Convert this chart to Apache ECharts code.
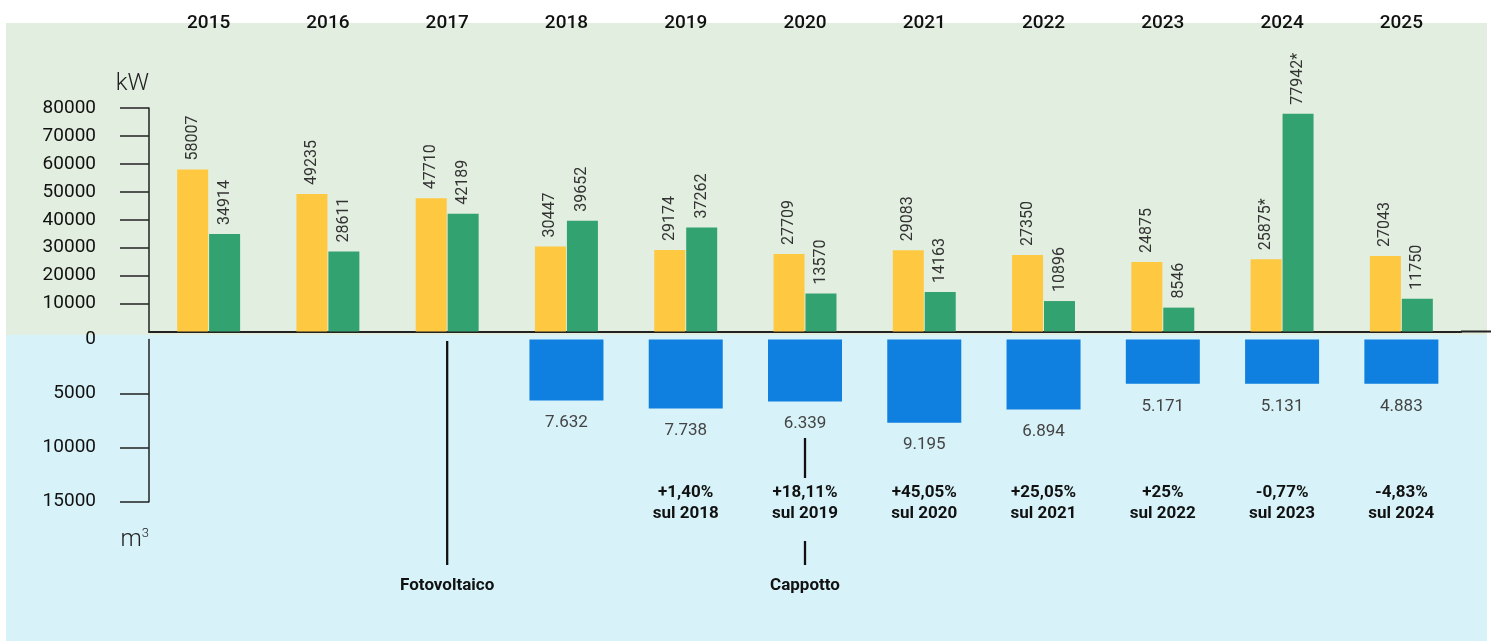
<!DOCTYPE html>
<html>
<head>
<meta charset="utf-8">
<title>Consumi</title>
<script src="https://cdn.jsdelivr.net/npm/echarts@6/dist/echarts.min.js"></script>
<style>
    html, body { margin: 0; padding: 0; background: #ffffff; }
    #chart { width: 1491px; height: 641px; }
</style>
</head>
<body>
<div id="chart"></div>
<script>
// Dati
const years = ['2015', '2016', '2017', '2018', '2019', '2020', '2021', '2022', '2023', '2024', '2025'];
const kwYellow = [58007, 49235, 47710, 30447, 29174, 27709, 29083, 27350, 24875, 25875, 27043];
const kwGreen = [34914, 28611, 42189, 39652, 37262, 13570, 14163, 10896, 8546, 77942, 11750];
const starredYears = ['2024'];
const gasUse = [null, null, null, 7632, 7738, 6339, 9195, 6894, 5171, 5131, 4883];
const gasBar = [null, null, null, 5650, 6390, 5740, 7690, 6480, 4100, 4100, 4100];
const gasChange = ['', '', '', '', '+1,40%', '+18,11%', '+45,05%', '+25,05%', '+25%', '-0,77%', '-4,83%'];
const milestoneYears = ['2017', '2020'];
const milestoneNames = ['Fotovoltaico', 'Cappotto'];
const kwTicks = [10000, 20000, 30000, 40000, 50000, 60000, 70000, 80000];
const gasTicks = [5000, 10000, 15000];

const FONT = 'Roboto, "Noto Sans", sans-serif';
const AXIS_COLOR = '#222222';

const chart = echarts.init(document.getElementById('chart'));

function withDots(v) {
    return String(v).replace(/\B(?=(\d{3})+(?!\d))/g, '.');
}

function kwLabel(p) {
    return p.value + (starredYears.includes(p.name) ? '*' : '');
}

const barLabel = {
    show: true,
    position: 'top',
    rotate: 90,
    align: 'left',
    verticalAlign: 'middle',
    distance: 9,
    fontFamily: FONT,
    fontSize: 16,
    color: '#333333',
    formatter: kwLabel
};

chart.setOption({
    backgroundColor: '#ffffff',
    animation: false,
    grid: [
        { left: 149, right: 30, top: 108, height: 223.5, outerBoundsMode: 'none' },
        { left: 149, right: 30, top: 339.5, height: 162.2, outerBoundsMode: 'none' }
    ],
    xAxis: [
        {
            gridIndex: 0,
            type: 'category',
            data: years,
            position: 'bottom',
            axisLine: { lineStyle: { color: AXIS_COLOR, width: 2 } },
            axisTick: { inside: true, length: 6, lineStyle: { color: AXIS_COLOR, width: 2 } },
            axisLabel: { show: false }
        },
        {
            gridIndex: 0,
            type: 'category',
            data: years,
            position: 'top',
            axisLine: { show: false },
            axisTick: { show: false },
            axisLabel: {
                margin: 85,
                verticalAlign: 'middle',
                fontFamily: FONT,
                fontSize: 19,
                fontWeight: 500,
                color: '#111111'
            }
        },
        {
            gridIndex: 1,
            type: 'category',
            data: years,
            position: 'top',
            show: false
        }
    ],
    yAxis: [
        {
            gridIndex: 0,
            type: 'value',
            min: 0,
            max: 80000,
            interval: 10000,
            name: 'kW',
            nameLocation: 'end',
            nameGap: 24,
            nameTextStyle: {
                fontFamily: FONT,
                fontSize: 24,
                fontWeight: 300,
                color: AXIS_COLOR,
                align: 'right',
                verticalAlign: 'middle'
            },
            splitLine: { show: false },
            axisLine: { show: true, lineStyle: { color: AXIS_COLOR, width: 1.5 } },
            axisTick: { show: true, length: 29, customValues: kwTicks, lineStyle: { color: AXIS_COLOR, width: 1.5 } },
            axisLabel: {
                margin: 53,
                customValues: kwTicks,
                formatter: v => String(v),
                fontFamily: FONT,
                fontSize: 19,
                color: '#111111'
            }
        },
        {
            gridIndex: 1,
            type: 'value',
            inverse: true,
            min: 0,
            max: 15000,
            interval: 5000,
            name: 'm{s|3}',
            nameLocation: 'end',
            nameGap: 38,
            nameTextStyle: {
                fontFamily: FONT,
                fontSize: 24,
                fontWeight: 300,
                color: AXIS_COLOR,
                align: 'right',
                verticalAlign: 'middle',
                rich: {
                    s: { fontFamily: FONT, fontSize: 13, fontWeight: 300, color: AXIS_COLOR, padding: [0, 0, 12, 0] }
                }
            },
            splitLine: { show: false },
            axisLine: { show: true, lineStyle: { color: AXIS_COLOR, width: 1.5 } },
            axisTick: { show: true, length: 29, customValues: gasTicks, lineStyle: { color: AXIS_COLOR, width: 1.5 } },
            axisLabel: {
                margin: 53,
                formatter: v => String(v),
                fontFamily: FONT,
                fontSize: 19,
                color: '#111111'
            }
        }
    ],
    series: [
        {
            name: 'kW giallo',
            type: 'bar',
            xAxisIndex: 0,
            yAxisIndex: 0,
            data: kwYellow,
            barWidth: 31,
            barGap: '3%',
            itemStyle: { color: '#FEC840' },
            label: barLabel
        },
        {
            name: 'kW verde',
            type: 'bar',
            xAxisIndex: 0,
            yAxisIndex: 0,
            data: kwGreen,
            barWidth: 31,
            barGap: '3%',
            itemStyle: { color: '#33A271' },
            label: barLabel
        },
        {
            name: 'm3',
            type: 'bar',
            xAxisIndex: 2,
            yAxisIndex: 1,
            data: gasBar,
            barWidth: 74,
            itemStyle: { color: '#0F7FE0' },
            label: {
                show: true,
                position: 'bottom',
                distance: 14,
                fontFamily: FONT,
                fontSize: 17,
                color: '#444444',
                formatter: p => withDots(gasUse[p.dataIndex])
            }
        }
    ]
});

// Sfondi e annotazioni
const graphics = [
    { type: 'rect', z: -10, shape: { x: 6, y: 23, width: 1481, height: 312 }, style: { fill: '#E2EEDF' } },
    { type: 'rect', z: -10, shape: { x: 6, y: 335, width: 1481, height: 306 }, style: { fill: '#D7F3F9' } },
    { type: 'line', z: 1, shape: { x1: 1461, y1: 331.5, x2: 1491, y2: 331.5 }, style: { stroke: AXIS_COLOR, lineWidth: 2 } }
];

function noteText(x, y, text) {
    return {
        type: 'text',
        z: 5,
        x: x,
        y: y,
        style: {
            text: text,
            font: 'bold 17px ' + FONT,
            fill: '#111111',
            align: 'center',
            verticalAlign: 'middle',
            textAlign: 'center',
            textVerticalAlign: 'middle',
            lineHeight: 21
        }
    };
}

function noteLine(x, y1, y2) {
    return { type: 'line', z: 5, shape: { x1: x, y1: y1, x2: x, y2: y2 }, style: { stroke: '#111111', lineWidth: 2.3 } };
}

years.forEach((y, i) => {
    if (!gasChange[i]) return;
    const x = chart.convertToPixel({ xAxisIndex: 2 }, y);
    graphics.push(noteText(x, 503, gasChange[i] + '\nsul ' + years[i - 1]));
});

milestoneYears.forEach((y, k) => {
    const i = years.indexOf(y);
    const x = chart.convertToPixel({ xAxisIndex: 2 }, y);
    if (gasBar[i] == null) {
        graphics.push(noteLine(x, 341, 565));
    } else {
        graphics.push(noteLine(x, 438, 478));
        graphics.push(noteLine(x, 541, 565));
    }
    graphics.push(noteText(x, 586, milestoneNames[k]));
});

chart.setOption({ graphic: graphics });
</script>
</body>
</html>
